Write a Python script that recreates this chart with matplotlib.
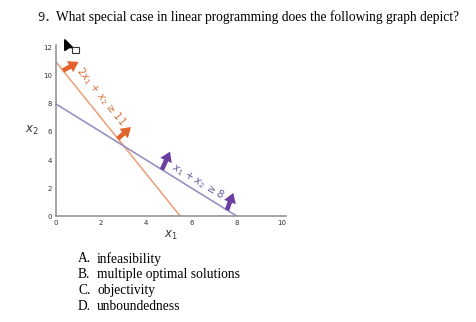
import matplotlib.pyplot as plt
import matplotlib.patches as mpatches

# constraint lines: a*x1 + b*x2 >= c
x1_ticks = [0, 2, 4, 6, 8, 10]
x2_ticks = [0, 2, 4, 6, 8, 10, 12]
orange_x = [0, 5.5]
orange_y = [11, 0]
purple_x = [0, 8]
purple_y = [8, 0]
# arrows (tail, head) in data units
orange_arrows = [((0.31, 10.38), (1.0, 11.0)), ((2.74, 5.52), (3.32, 6.35))]
purple_arrows = [((4.69, 3.31), (5.05, 4.6)), ((7.57, 0.43), (7.85, 1.65))]
question = "What special case in linear programming does the following graph depict?"
letters = ["A.", "B.", "C.", "D."]
answers = ["infeasibility", "multiple optimal solutions", "objectivity", "unboundedness"]

fig = plt.figure(figsize=(4.76, 3.22), dpi=100)
ax = fig.add_axes([0.1176, 0.329, 0.484, 0.531])

ax.plot(orange_x, orange_y, color="#EBA47F", lw=1.2)
ax.plot(purple_x, purple_y, color="#9B8FC2", lw=1.2)

style = "simple,head_width=0.9,head_length=0.7,tail_width=0.33"
for (t, h) in orange_arrows:
    ax.annotate("", xy=h, xytext=t,
                arrowprops=dict(arrowstyle=style, color="#E2622B", lw=0, shrinkA=0, shrinkB=0))
for (t, h) in purple_arrows:
    ax.annotate("", xy=h, xytext=t,
                arrowprops=dict(arrowstyle=style, color="#6B3FA0", lw=0, shrinkA=0, shrinkB=0))

ax.text(1.98, 8.5, "2$x_1$ + $x_2$ ≥ 11", color="#D8703C", fontsize=7.3,
        rotation=-51, ha="center", va="center", rotation_mode="anchor")
ax.text(6.28, 2.5, "$x_1$ + $x_2$ ≥ 8", color="#6A5A9E", fontsize=7.3,
        rotation=-31, ha="center", va="center", rotation_mode="anchor")

ax.set_xlim(0, 10.2)
ax.set_ylim(0, 12.2)
ax.set_xticks(x1_ticks)
ax.set_yticks(x2_ticks)
ax.tick_params(length=0, labelsize=5, colors="#333333", pad=3)
for s in ["top", "right"]:
    ax.spines[s].set_visible(False)
for s in ["left", "bottom"]:
    ax.spines[s].set_color("#8c8c8c")
    ax.spines[s].set_linewidth(1.1)
ax.set_xlabel("$x_1$", fontsize=8.5, color="#333333", labelpad=2)
ax.set_ylabel("$x_2$", fontsize=8.5, color="#333333", rotation=0, labelpad=8, va="center")

# cursor decoration
fig.add_artist(mpatches.Polygon([[0.136, 0.877], [0.136, 0.843], [0.145, 0.852], [0.153, 0.852]],
                                closed=True, color="black", transform=fig.transFigure))
fig.add_artist(mpatches.Rectangle((0.152, 0.834), 0.014, 0.02, fill=False, lw=0.8,
                                  edgecolor="#333333", transform=fig.transFigure))

fig.text(0.078, 0.947, "9．", fontsize=9.5, family=["Noto Sans CJK SC", "DejaVu Sans"],
         va="center", ha="left", color="#222222")
fig.text(0.118, 0.947, question, fontsize=9.75, family="Liberation Serif",
         va="center", ha="left", color="black")
for i, (l, a) in enumerate(zip(letters, answers)):
    y = 1 - (259 + i * 15.8) / 322
    fig.text(0.164, y, l, fontsize=9.75, family="Liberation Serif", va="center", ha="left")
    fig.text(0.204, y, a, fontsize=9.75, family="Liberation Serif", va="center", ha="left")

fig.savefig("out.png", dpi=100)
